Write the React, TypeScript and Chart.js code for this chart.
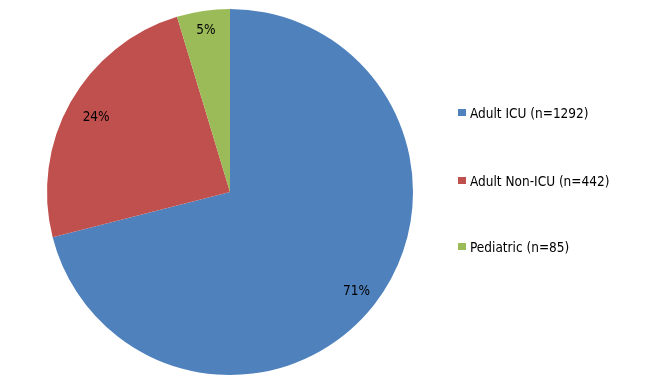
import React, { useEffect, useRef } from "react";
import { Chart, registerables } from "chart.js";

Chart.register(...registerables);

const categories = ["Adult ICU (n=1292)", "Adult Non-ICU (n=442)", "Pediatric (n=85)"];
const values = [1292, 442, 85];
const colors = ["#4F81BD", "#C0504D", "#9BBB59"];

const FONT = "13.5px 'DejaVu Sans Condensed', 'DejaVu Sans'";
const labelRadius = [0.875, 0.84, 0.9];

const labelPlugin = {
  id: "customLabels",
  afterDraw(chart: any) {
    const ctx = chart.ctx;
    const meta = chart.getDatasetMeta(0);
    const data = chart.data.datasets[0].data as number[];
    const total = data.reduce((a, b) => a + b, 0);
    ctx.save();
    ctx.font = FONT;
    ctx.fillStyle = "#000";
    ctx.textAlign = "center";
    ctx.textBaseline = "middle";
    meta.data.forEach((arc: any, i: number) => {
      const { x, y, startAngle, endAngle, outerRadius } = arc.getProps(
        ["x", "y", "startAngle", "endAngle", "outerRadius"],
        true
      );
      const mid = (startAngle + endAngle) / 2;
      const r = outerRadius * labelRadius[i];
      const pct = Math.round((data[i] / total) * 100) + "%";
      ctx.fillText(pct, x + Math.cos(mid) * r, y + Math.sin(mid) * r + 1);
    });
    // legend
    const labels = chart.data.labels as string[];
    const ys = [113, 181, 247];
    labels.forEach((lab, i) => {
      ctx.fillStyle = colors[i];
      ctx.fillRect(458, ys[i] - 4, 8, 7);
      ctx.fillStyle = "#000";
      ctx.textAlign = "left";
      ctx.fillText(lab, 470, ys[i] + 1);
    });
    ctx.restore();
  },
};

export default function App() {
  const ref = useRef<HTMLCanvasElement>(null);
  useEffect(() => {
    if (!ref.current) return;
    const chart = new Chart(ref.current, {
      type: "pie",
      data: {
        labels: categories,
        datasets: [
          {
            data: values,
            backgroundColor: colors,
            borderWidth: 0,
          },
        ],
      },
      options: {
        responsive: false,
        animation: false,
        layout: { padding: { left: 47, right: 239, top: 9, bottom: 9 } },
        plugins: {
          legend: { display: false },
          tooltip: { enabled: false },
        },
      },
      plugins: [labelPlugin],
    });
    return () => chart.destroy();
  }, []);
  return (
    <div style={{ position: "absolute", left: 0, top: 0, width: 652, height: 384, background: "#fff" }}>
      <canvas ref={ref} width={652} height={384} style={{ width: 652, height: 384 }} />
    </div>
  );
}
